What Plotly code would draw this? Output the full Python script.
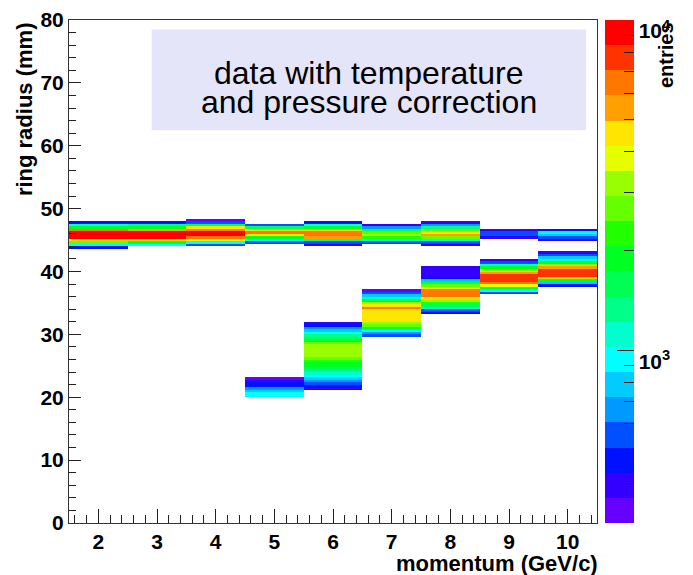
import numpy as np
import plotly.graph_objects as go

# ---------------- data ----------------
momentum = [2, 3, 4, 5, 6, 7, 8, 9, 10]          # GeV/c, bin centres (width 1)
x_tick_labels = momentum
y_tick_values = [0, 10, 20, 30, 40, 50, 60, 70, 80]
radius_bin_width = 0.4                             # mm
radius_max = 80.0

# upper band (one per momentum bin): lower edge of first filled bin (mm)
upper_start = [43.6, 44.0, 44.0, 44.4, 44.0, 44.4, 44.0, 45.2, 44.8]
# entries per radius bin, from low to high radius
upper_p2 = [460, 950, 2700, 4550, 9300, 9800, 9200, 6000, 2000, 1000, 470]
upper_p3 = [900, 1900, 4600, 9200, 9700, 9000, 5200, 1800, 1300, 500]
upper_p4 = [550, 1000, 3500, 7000, 9500, 9200, 6500, 4500, 1700, 550, 320]
upper_p5 = [520, 950, 2000, 4700, 6000, 4500, 1500, 520]
upper_p6 = [400, 550, 1300, 5000, 6400, 6700, 4800, 1800, 950, 450]
upper_p7 = [550, 1100, 2200, 3200, 2700, 1600, 650, 380]
upper_p8 = [390, 550, 1100, 2700, 5400, 4600, 2500, 1300, 650, 380]
upper_p9 = [390, 560, 570, 380]
upper_p10 = [390, 560, 800, 900, 450]

# lower band (momentum 5..10)
lower_momentum = [5, 6, 7, 8, 9, 10]
lower_start = [20.0, 21.2, 29.6, 33.2, 36.4, 37.6]
lower_p5 = [950, 920, 800, 650, 480, 460, 400, 330]
lower_p6 = [400, 480, 520, 650, 800, 950, 1100, 1300, 1600, 1850, 1950, 2200,
            2600, 3100, 3200, 3300, 3200, 3100, 2700, 1900, 1600, 1300, 950,
            800, 650, 480, 380]
lower_p7 = [550, 620, 950, 1900, 2700, 3300, 4500, 4600, 4700, 4700, 4900,
            6300, 4400, 3200, 1900, 1100, 800, 550, 330]
lower_p8 = [470, 560, 1100, 1600, 2200, 3200, 4600, 6400, 6600, 6300, 4600,
            2700, 1500, 800, 470, 400, 400, 390, 380]
lower_p9 = [560, 950, 1900, 3800, 6400, 7700, 8000, 7500, 5400, 3300, 1900,
            1100, 560, 390]
lower_p10 = [470, 800, 1900, 4500, 7800, 8100, 7700, 5400, 3200, 1900, 1100,
             800, 560, 390]

z_min = 300.0
z_max = 1.0e4
n_contours = 20
palette = ["#6600FF", "#3300FF", "#0011FF", "#0050FF", "#0099FF", "#00CCFF",
           "#00FFFF", "#00FFCC", "#00FF88", "#00FF55", "#00FF22", "#22FF00",
           "#66FF00", "#99FF00", "#E6FF00", "#FFE600", "#FFA000", "#FF7700",
           "#FF3300", "#FF0000"]

# ---------------- histogram ----------------
n_rbins = int(round(radius_max / radius_bin_width))
r_edges = np.linspace(0, radius_max, n_rbins + 1)
p_edges = np.arange(momentum[0] - 0.5, momentum[-1] + 1.0, 1.0)
counts = np.full((n_rbins, len(momentum)), np.nan)

upper_bands = [upper_p2, upper_p3, upper_p4, upper_p5, upper_p6,
               upper_p7, upper_p8, upper_p9, upper_p10]
lower_bands = [lower_p5, lower_p6, lower_p7, lower_p8, lower_p9, lower_p10]


def fill(p, start, vals):
    col = momentum.index(p)
    i0 = int(round(start / radius_bin_width))
    counts[i0:i0 + len(vals), col] = vals


for p, s, v in zip(momentum, upper_start, upper_bands):
    fill(p, s, v)
for p, s, v in zip(lower_momentum, lower_start, lower_bands):
    fill(p, s, v)

zlog = np.log10(counts)
lz0, lz1 = np.log10(z_min), np.log10(z_max)

colorscale = []
for k, c in enumerate(palette):
    colorscale.append([k / n_contours, c])
    colorscale.append([(k + 1) / n_contours, c])

minor_vals = [m * 10 ** e for e in (2, 3) for m in range(2, 10)
              if z_min <= m * 10 ** e < z_max]
major_vals = [1e3, 1e4]

FONT = "Liberation Sans, Arial, Helvetica"
bold = dict(family=FONT, size=21, color="black", weight="bold")

PLOT_H = 503.0
cb_common = dict(x=(605 - 69) / 528, xanchor="left", xref="paper",
                 len=1, lenmode="fraction", yanchor="middle",
                 thickness=29, thicknessmode="pixels", xpad=0, ypad=0,
                 outlinewidth=0, tickcolor="#222", tickwidth=1)
transparent = [[0, "rgba(0,0,0,0)"], [1, "rgba(0,0,0,0)"]]

fig = go.Figure()
fig.add_trace(go.Heatmap(
    x=p_edges, y=r_edges, z=zlog, zmin=lz0, zmax=lz1, zauto=False,
    colorscale=colorscale, zsmooth=False, hoverinfo="skip",
    colorbar=dict(**cb_common, y=0.5, ticks="inside", ticklen=10,
                  tickmode="array", tickvals=list(np.log10(minor_vals)),
                  ticktext=[""] * len(minor_vals)),
))
# transparent colour bar carrying the long major ticks
fig.add_trace(go.Scatter(
    x=[None], y=[None], mode="markers", showlegend=False, hoverinfo="skip",
    marker=dict(color=[lz0], cmin=lz0, cmax=lz1, showscale=True,
                colorscale=transparent,
                colorbar=dict(**cb_common, y=0.5, ticks="inside", ticklen=17,
                              tickmode="array",
                              tickvals=list(np.log10(major_vals)),
                              ticktext=["", ""])),
))
# transparent colour bar carrying the decade labels (ROOT puts them just below the tick)
fig.add_trace(go.Scatter(
    x=[None], y=[None], mode="markers", showlegend=False, hoverinfo="skip",
    marker=dict(color=[lz0], cmin=lz0, cmax=lz1, showscale=True,
                colorscale=transparent,
                colorbar=dict(**cb_common, y=0.5 - 11 / PLOT_H, ticks="",
                              tickmode="array",
                              tickvals=list(np.log10(major_vals)),
                              ticktext=["10<sup>3</sup>", "10<sup>4</sup>"],
                              tickfont=bold)),
))

axis_common = dict(ticks="inside", tickcolor="#222", showline=True,
                   linecolor="#333", linewidth=1, mirror=True,
                   showgrid=False, zeroline=False, tickfont=bold,
                   automargin=False)
fig.update_xaxes(range=[p_edges[0], p_edges[-1]], tickmode="array",
                 tickvals=x_tick_labels, ticklen=14,
                 minor=dict(dtick=0.2, tick0=2, ticks="inside", ticklen=8,
                            tickcolor="#222", showgrid=False),
                 **axis_common)
fig.update_yaxes(range=[0, radius_max], tickmode="array",
                 tickvals=y_tick_values, ticklen=12,
                 minor=dict(dtick=2, tick0=0, ticks="inside", ticklen=7,
                            tickcolor="#222", showgrid=False),
                 **axis_common)

title_font = dict(family=FONT, size=22, color="black", weight="bold")
pave_font = dict(family=FONT, size=32, color="black")

fig.update_layout(
    width=693, height=575,
    margin=dict(l=69, r=96, t=20, b=52),
    plot_bgcolor="white", paper_bgcolor="white",
    shapes=[dict(type="rect", xref="paper", yref="paper",
                 x0=(151.7 - 69) / 528, x1=(586 - 69) / 528,
                 y0=(522.7 - 130) / PLOT_H, y1=(522.7 - 29.3) / PLOT_H,
                 fillcolor="#E5E5F9", line=dict(width=0), layer="above")],
    annotations=[
        dict(text="momentum (GeV/c)", xref="paper", yref="paper",
             x=1.006, y=(522.7 - 563) / PLOT_H, xanchor="right",
             yanchor="middle", showarrow=False, font=title_font),
        dict(text="ring radius (mm)", xref="paper", yref="paper",
             x=-0.085, y=1.0, xanchor="center", yanchor="top",
             textangle=-90, showarrow=False, font=title_font),
        dict(text="entries", xref="paper", yref="paper",
             x=(666 - 69) / 528, y=1.0, xanchor="center", yanchor="top",
             textangle=-90, showarrow=False,
             font=dict(family=FONT, size=20, color="black", weight="bold")),
        dict(text="data with temperature", xref="paper", yref="paper",
             x=0.568, y=(522.7 - 73) / PLOT_H, xanchor="center",
             yanchor="middle", showarrow=False, font=pave_font),
        dict(text="and pressure correction", xref="paper", yref="paper",
             x=0.568, y=(522.7 - 102) / PLOT_H, xanchor="center",
             yanchor="middle", showarrow=False, font=pave_font),
    ],
)

fig.write_html("out.html", config={"displayModeBar": False},
               post_script="document.body.style.margin='0px';")
